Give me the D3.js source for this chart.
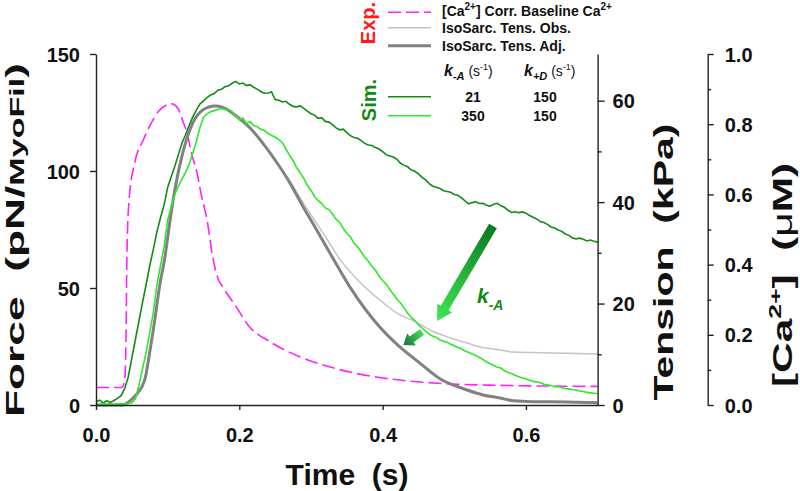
<!DOCTYPE html>
<html>
<head>
<meta charset="utf-8">
<script src="https://cdn.jsdelivr.net/npm/d3@7"></script>
<style>
  body { margin: 0; background: #fff; }
  svg { display: block; font-family: "Liberation Sans", Arial, sans-serif; }
</style>
</head>
<body>
<svg id="chart" width="800" height="491"></svg>
<script>
// ---- data ----
// simulated traces sampled every 5 ms (force, pN/MyoFil)
const simTime = d3.range(0, 0.7001, 0.005)
const simSlow = [ // k-A = 21 s^-1
  1.3, 2.1, 0.9, 1.8, 1.0, 1.9, 2.8, 4.0, 7.0, 12.0,
  20.0, 28.0, 36.0, 44.0, 51.5, 59.5, 66.5, 74.0, 80.0, 85.5,
  93.0, 97.5, 102.0, 107.0, 112.0, 115.5, 119.5, 123.0, 126.0, 128.6,
  130.0, 131.4, 132.5, 133.1, 134.5, 134.9, 136.0, 136.4, 137.5, 138.3,
  137.2, 137.6, 136.5, 136.9, 135.8, 135.0, 134.0, 133.2, 133.3, 133.8,
  130.5, 130.2, 129.5, 129.8, 128.5, 127.6, 127.4, 127.8, 126.8, 125.6,
  124.5, 123.9, 122.5, 122.8, 121.2, 120.9, 119.8, 118.4, 117.6, 117.9,
  116.4, 115.1, 114.3, 114.0, 113.0, 111.8, 111.1, 110.9, 110.0, 109.4,
  108.3, 107.0, 106.4, 106.0, 105.0, 103.3, 102.4, 101.8, 100.4, 99.9,
  98.8, 97.3, 96.2, 94.6, 93.5, 93.1, 92.5, 91.6, 91.2, 90.9,
  90.0, 89.6, 88.5, 87.2, 86.0, 86.5, 86.8, 86.1, 86.2, 85.4,
  85.0, 85.8, 86.2, 85.1, 84.5, 83.2, 82.3, 82.6, 82.2, 82.5,
  82.0, 81.0, 80.2, 79.5, 78.4, 78.0, 77.2, 76.1, 75.6, 74.8,
  74.2, 73.1, 72.5, 71.4, 71.0, 71.3, 70.8, 70.1, 70.5, 70.0,
  69.6
]
const simFast = [ // k-A = 350 s^-1
  0.5, 0.2, 0.6, 0.3, 0.5, 0.2, 0.4, 0.6, 0.5, 0.6,
  1.0, 2.6, 8.5, 15.5, 22.6, 31.0, 39.5, 51.3, 59.5, 67.5,
  79.0, 85.0, 90.0, 93.6, 96.5, 99.4, 102.8, 107.5, 112.5, 118.5,
  123.0, 124.4, 125.3, 125.8, 126.3, 126.7, 126.2, 126.5, 125.4, 123.6,
  121.9, 122.6, 120.2, 121.1, 119.5, 118.9, 117.8, 117.3, 116.1, 115.2,
  114.5, 113.4, 112.2, 109.4, 106.8, 104.5, 101.4, 99.2, 96.8, 93.9,
  91.8, 89.1, 87.4, 86.1, 84.2, 83.5, 81.6, 79.4, 78.1, 75.5,
  73.4, 71.9, 69.1, 67.6, 65.5, 63.2, 61.4, 59.3, 57.6, 55.1,
  53.2, 51.6, 49.4, 47.3, 45.2, 43.6, 41.5, 39.2, 37.4, 36.1,
  34.2, 32.9, 31.6, 30.2, 29.4, 28.9, 27.8, 27.2, 26.8, 26.0,
  25.3, 24.6, 24.0, 23.1, 22.5, 21.8, 21.2, 20.3, 19.5, 18.4,
  17.6, 17.0, 16.1, 15.8, 14.6, 13.9, 13.4, 12.7, 12.1, 11.5,
  11.2, 10.6, 10.1, 9.9, 9.5, 8.9, 8.6, 8.3, 7.8, 7.9,
  7.4, 7.0, 6.9, 6.5, 6.4, 6.0, 5.8, 5.4, 5.2, 5.0,
  4.9
]

// experimental isosarcometric tension, adjusted (force units)
const adjTime = [0, 0.035, 0.04, 0.047, 0.057, 0.068, 0.075, 0.082, 0.089, 0.096, 0.103, 0.110,
  0.121, 0.135, 0.149, 0.166, 0.177, 0.197, 0.215, 0.233, 0.253, 0.271, 0.289, 0.308, 0.326,
  0.354, 0.396, 0.424, 0.452, 0.480, 0.518, 0.540, 0.564, 0.582, 0.610, 0.657, 0.7]
const adjForce = [0, 0, 0.2, 1.7, 4.7, 10.7, 22.6, 36.3, 51.3, 62.8, 78.2, 91.9,
  107.7, 120.5, 126.1, 127.8, 127.2, 123.2, 118.4, 111.8, 103.3, 94.7, 84.7, 74.8, 65.2,
  50.6, 33.3, 24.8, 17.9, 11.2, 6.4, 4.3, 3.0, 1.8, 1.4, 1.3, 1.0]

// experimental isosarcometric tension, observed
const obsTime = [0, 0.035, 0.04, 0.047, 0.057, 0.068, 0.075, 0.082, 0.089, 0.096, 0.103, 0.110,
  0.121, 0.135, 0.149, 0.166, 0.177, 0.197, 0.215, 0.233, 0.253, 0.271, 0.289, 0.308, 0.323,
  0.341, 0.368, 0.396, 0.424, 0.443, 0.470, 0.490, 0.518, 0.536, 0.564, 0.582, 0.610, 0.657, 0.7]
const obsForce = [0, 0, 0.2, 1.7, 4.7, 10.7, 22.6, 36.3, 51.3, 62.8, 78.2, 91.9,
  107.7, 120.5, 126.1, 127.8, 127.2, 123.2, 118.4, 111.8, 103.5, 95.5, 86.5, 77.6, 70.5,
  62.0, 52.6, 44.9, 38.5, 36.0, 31.5, 29.1, 26.5, 24.8, 23.5, 22.6, 22.4, 22.1, 21.8]

// baseline-corrected [Ca2+] transient (uM)
const caTime = [0, 0.036, 0.040, 0.042, 0.043, 0.046, 0.054, 0.066, 0.075, 0.087, 0.096, 0.106,
  0.114, 0.121, 0.127, 0.134, 0.141, 0.147, 0.155, 0.163, 0.170, 0.177, 0.196, 0.212, 0.243,
  0.285, 0.327, 0.368, 0.424, 0.494, 0.564, 0.7]
const caConc = [0.050, 0.050, 0.07, 0.21, 0.41, 0.58, 0.69, 0.755, 0.795, 0.836, 0.852, 0.858,
  0.846, 0.81, 0.775, 0.712, 0.661, 0.598, 0.527, 0.42, 0.362, 0.336, 0.279, 0.228, 0.18,
  0.137, 0.108, 0.088, 0.071, 0.06, 0.056, 0.053]

const timeTicks = [0, 0.2, 0.4, 0.6]
const forceTicks = [0, 50, 100, 150]
const tensionTicks = [0, 20, 40, 60]
const tensionMinor = [10, 30, 50]
const caTicks = [0, 0.2, 0.4, 0.6, 0.8, 1.0]
const caMinor = [0.1, 0.3, 0.5, 0.7, 0.9]
const simRates = [
  { kA: '21', kD: '150', color: '#138a13' },
  { kA: '350', kD: '150', color: '#2ee82e' },
]

// ---- layout ----
const svg = d3.select('#chart')
const x = d3.scaleLinear().domain([0, 0.7]).range([96, 597.6])
const yF = d3.scaleLinear().domain([0, 150]).range([405, 54])
const yT = d3.scaleLinear().domain([0, 69.2]).range([405, 54])
const yCa = d3.scaleLinear().domain([0, 1]).range([405, 54])

const tickFont = (g) => g.selectAll('text')
  .attr('font-size', 20).attr('font-weight', 'bold').attr('fill', '#111')
  .attr('font-family', '"Liberation Sans", Arial, sans-serif')
const axisStyle = (g) => {
  g.selectAll('path.domain').attr('stroke', '#222').attr('stroke-width', 1.4)
  g.selectAll('line').attr('stroke', '#222').attr('stroke-width', 1.4)
}

// ---- traces ----
const line = d3.line().x((d) => x(d[0])).y((d) => d[1])
const smooth = d3.line().x((d) => x(d[0])).y((d) => d[1]).curve(d3.curveMonotoneX)

svg.append('path')
  .attr('d', smooth(caTime.map((t, i) => [t, yCa(caConc[i])])))
  .attr('fill', 'none').attr('stroke', '#ff22ff').attr('stroke-width', 1.6)
  .attr('stroke-dasharray', '13,5')

svg.append('path')
  .attr('d', smooth(obsTime.map((t, i) => [t, yF(obsForce[i])])))
  .attr('fill', 'none').attr('stroke', '#c4c4c4').attr('stroke-width', 1.5)

svg.append('path')
  .attr('d', line(simTime.map((t, i) => [t, yF(simSlow[i])])))
  .attr('fill', 'none').attr('stroke', simRates[0].color).attr('stroke-width', 1.6)

svg.append('path')
  .attr('d', smooth(adjTime.map((t, i) => [t, yF(adjForce[i])])))
  .attr('fill', 'none').attr('stroke', '#818181').attr('stroke-width', 3)

svg.append('path')
  .attr('d', line(simTime.map((t, i) => [t, yF(simFast[i])])))
  .attr('fill', 'none').attr('stroke', simRates[1].color).attr('stroke-width', 1.6)

// ---- axes ----
svg.append('g').attr('transform', 'translate(0,405)')
  .call(d3.axisBottom(x).tickValues(timeTicks).tickFormat(d3.format('.1f'))
    .tickSize(5).tickSizeOuter(0).tickPadding(18))
  .call(tickFont).call(axisStyle)

svg.append('g').attr('transform', 'translate(96,0)')
  .call(d3.axisLeft(yF).tickValues(forceTicks).tickSize(6).tickSizeOuter(0).tickPadding(10))
  .call(tickFont).call(axisStyle)

svg.append('g').attr('transform', 'translate(597.6,0)')
  .call(d3.axisRight(yT).tickValues(tensionTicks).tickSize(7).tickSizeOuter(0).tickPadding(8))
  .call(tickFont).call(axisStyle)
svg.append('g').attr('transform', 'translate(597.6,0)')
  .call(d3.axisRight(yT).tickValues(tensionMinor).tickSize(4).tickFormat(''))
  .call(axisStyle).select('path.domain').remove()

svg.append('g').attr('transform', 'translate(707.7,0)')
  .call(d3.axisRight(yCa).tickValues(caTicks).tickFormat(d3.format('.1f'))
    .tickSize(6).tickSizeOuter(0).tickPadding(11))
  .call(tickFont).call(axisStyle)
svg.append('g').attr('transform', 'translate(707.7,0)')
  .call(d3.axisRight(yCa).tickValues(caMinor).tickSize(3.5).tickFormat(''))
  .call(axisStyle).select('path.domain').remove()

svg.selectAll('.tick text').attr('dy', function () {
  return d3.select(this.parentNode.parentNode).attr('transform') === 'translate(0,405)' ? '0.71em' : '0.35em'
})

// ---- axis titles ----
svg.append('text').attr('x', 347).attr('y', 485).attr('text-anchor', 'middle')
  .attr('font-size', 30).attr('font-weight', 'bold').attr('fill', '#111')
  .attr('xml:space', 'preserve').text('Time  (s)')

const force = svg.append('text').attr('transform', 'translate(24,240) rotate(-90)')
  .attr('text-anchor', 'middle').attr('font-weight', 'bold').attr('fill', '#111')
  .attr('textLength', 354).attr('lengthAdjust', 'spacingAndGlyphs')
force.append('tspan').attr('font-size', 26).text('Force\u00a0\u00a0(pN/')
force.append('tspan').attr('font-size', 20).text('MyoFil')
force.append('tspan').attr('font-size', 26).text(')')

svg.append('text').attr('transform', 'translate(673,262) rotate(-90)')
  .attr('text-anchor', 'middle').attr('font-weight', 'bold').attr('fill', '#111')
  .attr('font-size', 28).attr('textLength', 277).attr('lengthAdjust', 'spacingAndGlyphs')
  .text('Tension\u00a0\u00a0(kPa)')

const ca = svg.append('text').attr('transform', 'translate(792,275) rotate(-90)')
  .attr('text-anchor', 'middle').attr('font-weight', 'bold').attr('fill', '#111')
  .attr('font-size', 27).attr('textLength', 224).attr('lengthAdjust', 'spacingAndGlyphs')
ca.append('tspan').text('[Ca')
ca.append('tspan').attr('font-size', 17).attr('dy', -11).text('2+')
ca.append('tspan').attr('dy', 11).text(']\u00a0\u00a0(')
ca.append('tspan').attr('font-weight', 'normal').text('\u03bc')
ca.append('tspan').text('M)')

// ---- k-A arrows ----
const defs = svg.append('defs')
function gradient(id, from, to) {
  const g = defs.append('linearGradient').attr('id', id)
    .attr('x1', 0).attr('y1', 0).attr('x2', 1).attr('y2', 0)
  g.append('stop').attr('offset', '0%').attr('stop-color', from)
  g.append('stop').attr('offset', '100%').attr('stop-color', to)
}
gradient('bigArrow', '#0b7a22', '#3fe852')
gradient('smallArrow', '#3fe050', '#1c6a3c')

function arrow(tail, tip, shaftW, headW, headL, fill) {
  const x0 = x(tail[0]), y0 = yF(tail[1]), x1 = x(tip[0]), y1 = yF(tip[1])
  const len = Math.hypot(x1 - x0, y1 - y0)
  const ang = Math.atan2(y1 - y0, x1 - x0) * 180 / Math.PI
  const s = shaftW / 2, h = headW / 2, b = len - headL
  svg.append('path')
    .attr('d', `M0,${-s}L${b},${-s}L${b},${-h}L${len},0L${b},${h}L${b},${s}L0,${s}Z`)
    .attr('transform', `translate(${x0},${y0}) rotate(${ang})`)
    .attr('fill', `url(#${fill})`)
}
arrow([0.554, 76.5], [0.476, 35.9], 9, 17, 15, 'bigArrow')
arrow([0.455, 31.2], [0.429, 25.6], 7, 15, 10, 'smallArrow')

const kLabel = svg.append('text').attr('x', 477).attr('y', 303)
  .attr('font-weight', 'bold').attr('font-style', 'italic').attr('fill', '#138a13')
kLabel.append('tspan').attr('font-size', 21).text('k')
kLabel.append('tspan').attr('font-size', 14).attr('dy', 7).text('-A')

// ---- legend ----
svg.append('text').attr('transform', 'translate(375,23) rotate(-90)').attr('text-anchor', 'middle')
  .attr('font-size', 20).attr('font-weight', 'bold').attr('fill', '#ff1a1a').text('Exp.')
svg.append('text').attr('transform', 'translate(376,100) rotate(-90)').attr('text-anchor', 'middle')
  .attr('font-size', 20).attr('font-weight', 'bold').attr('fill', '#138a13').text('Sim.')

const legend = svg.append('g').attr('font-size', 14).attr('font-weight', 'bold').attr('fill', '#111')
const lx1 = 388, lx2 = 431, tx = 442

legend.append('line').attr('x1', lx1).attr('x2', lx2).attr('y1', 12.3).attr('y2', 12.3)
  .attr('stroke', '#ff22ff').attr('stroke-width', 1.6).attr('stroke-dasharray', '13,5')
const caLeg = legend.append('text').attr('x', tx).attr('y', 16)
caLeg.append('tspan').text('[Ca')
caLeg.append('tspan').attr('font-size', 10).attr('dy', -6).text('2+')
caLeg.append('tspan').attr('dy', 6).text('] Corr. Baseline Ca')
caLeg.append('tspan').attr('font-size', 10).attr('dy', -6).text('2+')

legend.append('line').attr('x1', lx1).attr('x2', lx2).attr('y1', 27.7).attr('y2', 27.7)
  .attr('stroke', '#c4c4c4').attr('stroke-width', 1.5)
legend.append('text').attr('x', tx).attr('y', 33).text('IsoSarc. Tens. Obs.')

legend.append('line').attr('x1', lx1).attr('x2', lx2).attr('y1', 45.7).attr('y2', 45.7)
  .attr('stroke', '#818181').attr('stroke-width', 3)
legend.append('text').attr('x', tx).attr('y', 51).text('IsoSarc. Tens. Adj.')

function rateHeader(x0, sub) {
  const t = legend.append('text').attr('x', x0).attr('y', 76)
  t.append('tspan').attr('font-size', 16).attr('font-style', 'italic').text('k')
  t.append('tspan').attr('font-size', 11).attr('font-style', 'italic').attr('dy', 4).text(sub)
  t.append('tspan').attr('font-weight', 'normal').attr('dy', -4).text(' (s')
  t.append('tspan').attr('font-weight', 'normal').attr('font-size', 9).attr('dy', -6).text('-1')
  t.append('tspan').attr('font-weight', 'normal').attr('dy', 6).text(')')
}
rateHeader(444, '-A')
rateHeader(524, '+D')

simRates.forEach((r, i) => {
  const yy = [96.7, 115.7][i]
  legend.append('line').attr('x1', lx1).attr('x2', lx2).attr('y1', yy).attr('y2', yy)
    .attr('stroke', r.color).attr('stroke-width', 1.6)
  legend.append('text').attr('x', 473).attr('y', yy + 5).attr('text-anchor', 'middle').text(r.kA)
  legend.append('text').attr('x', 545).attr('y', yy + 5).attr('text-anchor', 'middle').text(r.kD)
})
</script>
</body>
</html>
